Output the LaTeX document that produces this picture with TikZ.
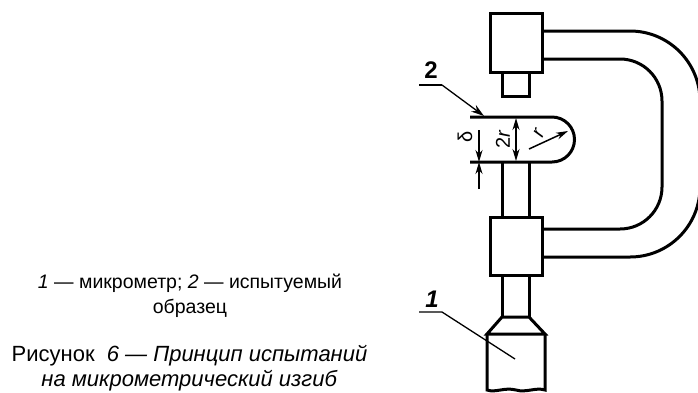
\documentclass[tikz,border=0pt]{standalone}
\usepackage{fontspec}
\setmainfont{Liberation Sans}
\usetikzlibrary{arrows.meta}
\tikzset{
	heavy/.style={line width=3pt,line join=miter},
	thin leader/.style={line width=1.3pt},
	dimen/.style={line width=1.5pt,-{Stealth[length=12pt,width=7pt]}},
	keytext/.style={font=\fontsize{19.5}{25}\selectfont,align=center,inner sep=0pt},
	figcaption/.style={font=\fontsize{22}{25}\selectfont,align=center,inner sep=0pt},
	callout/.style={font=\fontsize{24}{26}\selectfont\bfseries,inner sep=0pt},
	dimlabel/.style={font=\fontsize{20}{22}\selectfont,inner sep=0pt}
}
\begin{document}
\begin{tikzpicture}[x=1pt,y=-1pt]
	\useasboundingbox (0,0) rectangle (698,392);

	% C frame
	\draw[heavy] (542,31) -- (630,31) arc[start angle=-90,end angle=0,radius=70] -- (700,187) arc[start angle=0,end angle=90,radius=70] -- (542,257);
	\draw[heavy] (542,59) -- (620,59) arc[start angle=-90,end angle=0,radius=42] -- (662,187) arc[start angle=0,end angle=90,radius=42] -- (542,229);

	% anvil and upper block
	\draw[heavy] (490,13) rectangle (542,72);
	\draw[heavy] (502,72) rectangle (529,96);

	% spindle, lower block, barrel
	\draw[heavy] (502,162) -- (502,217);
	\draw[heavy] (529,162) -- (529,217);
	\draw[heavy] (490,217) rectangle (542,275);
	\draw[heavy] (502,275) -- (502,317);
	\draw[heavy] (529,275) -- (529,317);
	\draw[heavy] (502,317) -- (529,317) -- (545,334) -- (487,334) -- cycle;
	\draw[heavy] (487,334) -- (487,390) .. controls (496,393) and (504,387) .. (516,390) .. controls (526,393) and (536,387) .. (545,390) -- (545,334);

	% sample
	\draw[heavy] (470,117) -- (552,117) arc[start angle=-90,end angle=90,radius=22.5] -- (470,162);

	% dimensions
	\draw[dimen] (479,130) -- (479,162);
	\draw[dimen] (479,189) -- (479,162);
	\draw[dimen,{Stealth[length=12pt,width=7pt]}-{Stealth[length=12pt,width=7pt]}] (516,118) -- (516,161);
	\draw[dimen] (529,149) -- (568,131);
	\node[dimlabel,rotate=90] (delta) at (465,137) {δ};
	\node[dimlabel,rotate=90] (dia) at (503,139) {2\textit{r}};
	\node[dimlabel,rotate=65] (rad) at (539,133) {\textit{r}};

	% callouts
	\node[callout] (two) at (431,70) {2};
	\node[callout,font=\fontsize{24}{26}\selectfont\bfseries\itshape] (one) at (432,299) {1};
	\coordinate (t1) at (419,85);
	\coordinate (t2) at (442,85);
	\coordinate (o1) at (419,312);
	\coordinate (o2) at (442,312);
	\draw[thin leader] (t1) -- (t2);
	\draw[thin leader,-{Stealth[length=13pt,width=8pt]}] (t2) -- (484,116);
	\draw[thin leader] (o1) -- (o2) -- (515,359);

	% captions
	\node[keytext] (key) at (190,295.5) {\textit{1} — микрометр; \textit{2} — испытуемый\\образец};
	\node[figcaption] (figcap) at (189.5,368.5) {Рисунок\ \ \textit{6 — Принцип испытаний}\\\textit{на микрометрический изгиб}};
\end{tikzpicture}
\end{document}
